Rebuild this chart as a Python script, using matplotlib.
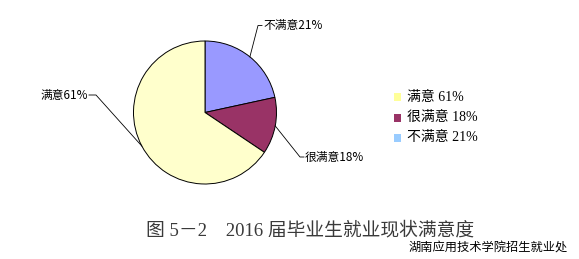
import numpy as np
import matplotlib
matplotlib.use("Agg")
import matplotlib.pyplot as plt
from matplotlib.patches import Rectangle

plt.rcParams['font.family'] = ['Noto Sans CJK SC', 'DejaVu Sans']

# slice data (clockwise from 12 o'clock), shares as drawn in the picture
names = ['不满意', '很满意', '满意']
shares = [21.6, 12.8, 65.6]
pct_labels = ['21%', '18%', '61%']
pie_colors = ['#9999FF', '#993366', '#FFFFCC']
# legend order and colours
leg_names = ['满意', '很满意', '不满意']
leg_pcts = ['61%', '18%', '21%']
leg_colors = ['#FFFF99', '#993366', '#99CCFF']

title = '图 5－2　2016 届毕业生就业现状满意度'
source = '湖南应用技术学院招生就业处'

W, H = 579, 259
fig = plt.figure(figsize=(W / 100, H / 100), dpi=100)
ax = fig.add_axes([0, 0, 1, 1])

def py(y):
    return H - y

cx, cy, r = 205, py(112.5), 71.5
wedges, _ = ax.pie(shares, colors=pie_colors, startangle=90, counterclock=False,
                   center=(cx, cy), radius=r,
                   wedgeprops=dict(edgecolor='black', linewidth=0.7))
ax.set_xlim(0, W)
ax.set_ylim(0, H)
ax.set_aspect('auto')
ax.axis('off')

# leader lines: elbow point, end of short horizontal tick, text alignment
elbows = [(258, 25.5), (300, 157), (96, 95)]
ticks = [(262, 25.5), (304, 157), (89, 95)]
aligns = ['left', 'left', 'right']
for w, nm, pc, el, tk, ha in zip(wedges, names, pct_labels, elbows, ticks, aligns):
    mid = np.deg2rad((w.theta1 + w.theta2) / 2)
    ex, ey = cx + r * np.cos(mid), cy + r * np.sin(mid)
    ax.plot([ex, el[0], tk[0]], [ey, py(el[1]), py(tk[1])], color='black', lw=0.6)
    tx = tk[0] + 1 if ha == 'left' else tk[0] - 1
    ax.text(tx, py(tk[1]), nm + pc, ha=ha, va='center', fontsize=8.5, color='black')

# legend
rows = [97, 117.5, 138]
for y, nm, pc, c in zip(rows, leg_names, leg_pcts, leg_colors):
    ax.add_patch(Rectangle((394, py(y) - 4), 7, 8, facecolor=c, edgecolor='none'))
    ax.text(407, py(y), nm + ' ' + pc, ha='left', va='center', fontsize=10,
            family=['Liberation Serif', 'Noto Sans CJK SC'], color='black')

ax.text(310, py(231), title, ha='center', va='center', fontsize=13.5,
        family=['Liberation Serif', 'Noto Sans CJK SC'], color='#3a3a3a')
ax.text(568, py(247.5), source, ha='right', va='center', fontsize=8.8, color='black')

fig.savefig('out.png', dpi=100)
